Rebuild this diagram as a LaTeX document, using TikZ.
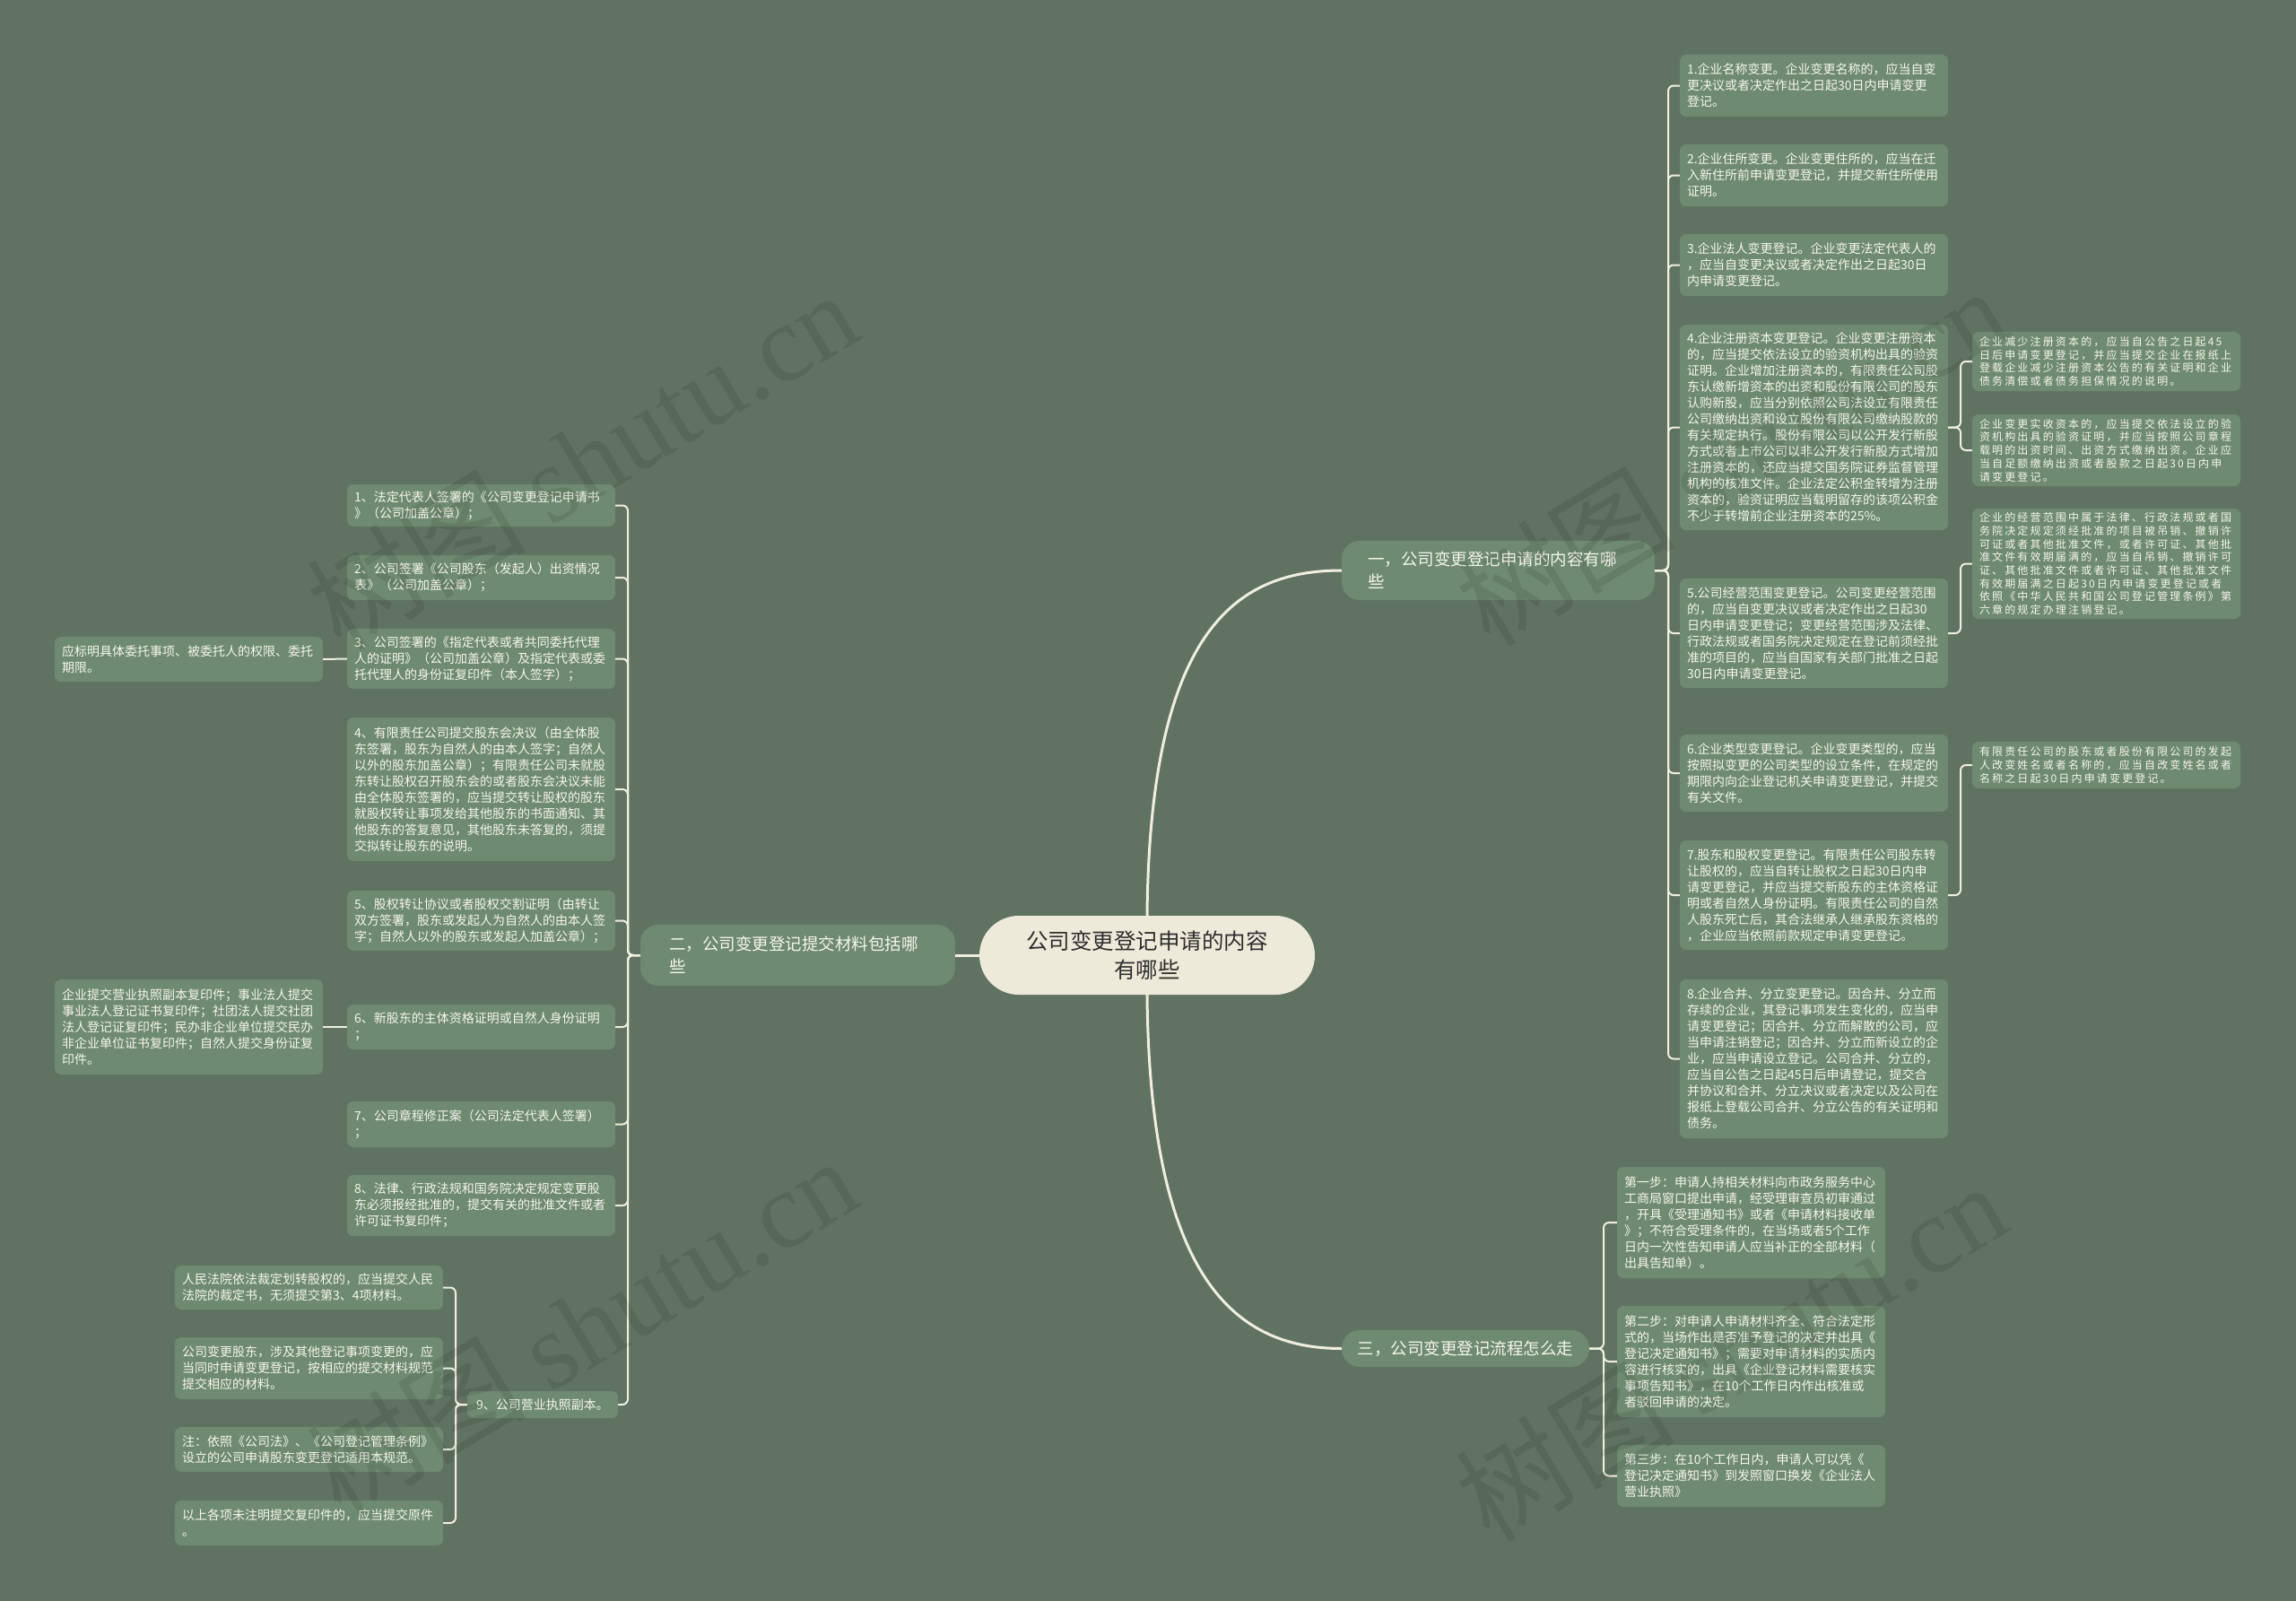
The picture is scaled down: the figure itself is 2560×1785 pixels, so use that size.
\documentclass[tikz,border=0pt]{standalone}
\usepackage{fontspec}
\newfontfamily\cjk{Noto Sans CJK SC}
\newfontfamily\cjkf[LetterSpace=18]{Noto Sans CJK SC}
\newfontfamily\wmserif{Liberation Serif}
\definecolor{bgcol}{HTML}{607362}
\definecolor{boxcol}{HTML}{6E8A70}
\definecolor{txtcol}{HTML}{F6F5EE}
\definecolor{linecol}{HTML}{F1EEDF}
\definecolor{rootcol}{HTML}{EEEADA}
\definecolor{roottxt}{HTML}{2E2E2E}
\tikzset{
  box/.style={fill=boxcol, rounded corners=7pt, text=txtcol, font={\cjk\fontsize{14pt}{18pt}\selectfont}, align=left, text width=283pt, inner xsep=8pt, inner ysep=0pt},
  fbox/.style={box, font={\cjkf\fontsize{12pt}{14.7pt}\selectfont}},
  sbox/.style={fill=boxcol, rounded corners=7pt, text=txtcol, font={\cjk\fontsize{14pt}{18pt}\selectfont}, inner xsep=8pt, inner ysep=0pt},
  branch/.style={fill=boxcol, rounded corners=20pt, text=txtcol, font={\cjk\fontsize{18.5pt}{25pt}\selectfont}, align=left, inner ysep=0pt},
  rootnode/.style={fill=rootcol, rounded corners=44pt, text=roottxt, font={\cjk\fontsize{24.5pt}{32pt}\selectfont}, align=center, minimum width=374pt, minimum height=88pt},
  conn/.style={draw=linecol, line width=2pt, rounded corners=6pt},
  mainconn/.style={draw=linecol, line width=3pt},
  wm/.style={text=black, opacity=0.09, rotate=31, font={\cjk\fontsize{122pt}{122pt}\selectfont}}
}
\begin{document}
\begin{tikzpicture}[x=1pt,y=-1pt]
\fill[bgcol] (0,0) rectangle (2560,1785);
\useasboundingbox (0,0) rectangle (2560,1785);

% center and branches
\node[rootnode] (c) at (1279,1065) {公司变更登记申请的内容\\有哪些};
\node[branch, text width=291pt, inner xsep=29pt, minimum height=66pt] (b1) at (1670.5,636) {一，公司变更登记申请的内容有哪\\些};
\node[branch, text width=287pt, inner xsep=32pt, minimum height=68pt] (b2) at (889.5,1065) {二，公司变更登记提交材料包括哪\\些};
\node[branch, minimum width=276pt, minimum height=41pt] (b3) at (1634,1503.5) {三，公司变更登记流程怎么走};

% right column
\node[box, minimum height=69pt] (r1) at (2022.5,95.5) {1.企业名称变更。企业变更名称的，应当自变\\更决议或者决定作出之日起30日内申请变更\\登记。};
\node[box, minimum height=69pt] (r2) at (2022.5,195.5) {2.企业住所变更。企业变更住所的，应当在迁\\入新住所前申请变更登记，并提交新住所使用\\证明。};
\node[box, minimum height=69pt] (r3) at (2022.5,295.5) {3.企业法人变更登记。企业变更法定代表人的\\，应当自变更决议或者决定作出之日起30日\\内申请变更登记。};
\node[box, minimum height=229pt] (r4) at (2022.5,476.5) {4.企业注册资本变更登记。企业变更注册资本\\的，应当提交依法设立的验资机构出具的验资\\证明。企业增加注册资本的，有限责任公司股\\东认缴新增资本的出资和股份有限公司的股东\\认购新股，应当分别依照公司法设立有限责任\\公司缴纳出资和设立股份有限公司缴纳股款的\\有关规定执行。股份有限公司以公开发行新股\\方式或者上市公司以非公开发行新股方式增加\\注册资本的，还应当提交国务院证券监督管理\\机构的核准文件。企业法定公积金转增为注册\\资本的，验资证明应当载明留存的该项公积金\\不少于转增前企业注册资本的25\%。};
\node[box, minimum height=122pt] (r5) at (2022.5,706) {5.公司经营范围变更登记。公司变更经营范围\\的，应当自变更决议或者决定作出之日起30\\日内申请变更登记；变更经营范围涉及法律、\\行政法规或者国务院决定规定在登记前须经批\\准的项目的，应当自国家有关部门批准之日起\\30日内申请变更登记。};
\node[box, minimum height=86pt] (r6) at (2022.5,862) {6.企业类型变更登记。企业变更类型的，应当\\按照拟变更的公司类型的设立条件，在规定的\\期限内向企业登记机关申请变更登记，并提交\\有关文件。};
\node[box, minimum height=122pt] (r7) at (2022.5,998) {7.股东和股权变更登记。有限责任公司股东转\\让股权的，应当自转让股权之日起30日内申\\请变更登记，并应当提交新股东的主体资格证\\明或者自然人身份证明。有限责任公司的自然\\人股东死亡后，其合法继承人继承股东资格的\\，企业应当依照前款规定申请变更登记。};
\node[box, minimum height=177pt] (r8) at (2022.5,1180.5) {8.企业合并、分立变更登记。因合并、分立而\\存续的企业，其登记事项发生变化的，应当申\\请变更登记；因合并、分立而解散的公司，应\\当申请注销登记；因合并、分立而新设立的企\\业，应当申请设立登记。公司合并、分立的，\\应当自公告之日起45日后申请登记，提交合\\并协议和合并、分立决议或者决定以及公司在\\报纸上登载公司合并、分立公告的有关证明和\\债务。};

% far right
\node[fbox, minimum height=66pt] (f1) at (2348.5,403) {企业减少注册资本的，应当自公告之日起45\\日后申请变更登记，并应当提交企业在报纸上\\登载企业减少注册资本公告的有关证明和企业\\债务清偿或者债务担保情况的说明。};
\node[fbox, minimum height=80pt] (f2) at (2348.5,502) {企业变更实收资本的，应当提交依法设立的验\\资机构出具的验资证明，并应当按照公司章程\\载明的出资时间、出资方式缴纳出资。企业应\\当自足额缴纳出资或者股款之日起30日内申\\请变更登记。};
\node[fbox, minimum height=123pt] (f3) at (2348.5,628.5) {企业的经营范围中属于法律、行政法规或者国\\务院决定规定须经批准的项目被吊销、撤销许\\可证或者其他批准文件，或者许可证、其他批\\准文件有效期届满的，应当自吊销、撤销许可\\证、其他批准文件或者许可证、其他批准文件\\有效期届满之日起30日内申请变更登记或者\\依照《中华人民共和国公司登记管理条例》第\\六章的规定办理注销登记。};
\node[fbox, minimum height=52pt] (f4) at (2348.5,853) {有限责任公司的股东或者股份有限公司的发起\\人改变姓名或者名称的，应当自改变姓名或者\\名称之日起30日内申请变更登记。};

% steps
\node[box, minimum height=124pt] (s1) at (1952.5,1363) {第一步：申请人持相关材料向市政务服务中心\\工商局窗口提出申请，经受理审查员初审通过\\，开具《受理通知书》或者《申请材料接收单\\》；不符合受理条件的，在当场或者5个工作\\日内一次性告知申请人应当补正的全部材料（\\出具告知单）。};
\node[box, minimum height=124pt] (s2) at (1952.5,1518) {第二步：对申请人申请材料齐全、符合法定形\\式的，当场作出是否准予登记的决定并出具《\\登记决定通知书》；需要对申请材料的实质内\\容进行核实的，出具《企业登记材料需要核实\\事项告知书》，在10个工作日内作出核准或\\者驳回申请的决定。};
\node[box, minimum height=69pt] (s3) at (1952.5,1645.5) {第三步：在10个工作日内，申请人可以凭《\\登记决定通知书》到发照窗口换发《企业法人\\营业执照》};

% left column
\node[box, minimum height=47pt] (l1) at (536.5,563.5) {1、法定代表人签署的《公司变更登记申请书\\》（公司加盖公章）；};
\node[box, minimum height=50pt] (l2) at (536.5,644) {2、公司签署《公司股东（发起人）出资情况\\表》（公司加盖公章）；};
\node[box, minimum height=67pt] (l3) at (536.5,734.5) {3、公司签署的《指定代表或者共同委托代理\\人的证明》（公司加盖公章）及指定代表或委\\托代理人的身份证复印件（本人签字）；};
\node[box, minimum height=160pt] (l4) at (536.5,880) {4、有限责任公司提交股东会决议（由全体股\\东签署，股东为自然人的由本人签字；自然人\\以外的股东加盖公章）；有限责任公司未就股\\东转让股权召开股东会的或者股东会决议未能\\由全体股东签署的，应当提交转让股权的股东\\就股权转让事项发给其他股东的书面通知、其\\他股东的答复意见，其他股东未答复的，须提\\交拟转让股东的说明。};
\node[box, minimum height=67pt] (l5) at (536.5,1026.5) {5、股权转让协议或者股权交割证明（由转让\\双方签署，股东或发起人为自然人的由本人签\\字；自然人以外的股东或发起人加盖公章）；};
\node[box, minimum height=50pt] (l6) at (536.5,1145) {6、新股东的主体资格证明或自然人身份证明\\；};
\node[box, minimum height=51pt] (l7) at (536.5,1253.5) {7、公司章程修正案（公司法定代表人签署）\\；};
\node[box, minimum height=68pt] (l8) at (536.5,1344) {8、法律、行政法规和国务院决定规定变更股\\东必须报经批准的，提交有关的批准文件或者\\许可证书复印件；};
\node[sbox, minimum width=168pt, minimum height=30pt] (l9) at (605,1566) {9、公司营业执照副本。};

% far left
\node[box, minimum height=50pt] (fl1) at (210.5,735) {应标明具体委托事项、被委托人的权限、委托\\期限。};
\node[box, minimum height=106pt] (fl2) at (210.5,1145) {企业提交营业执照副本复印件；事业法人提交\\事业法人登记证书复印件；社团法人提交社团\\法人登记证复印件；民办非企业单位提交民办\\非企业单位证书复印件；自然人提交身份证复\\印件。};

% children of 9
\node[box, minimum height=49pt] (n1) at (344.5,1435.5) {人民法院依法裁定划转股权的，应当提交人民\\法院的裁定书，无须提交第3、4项材料。};
\node[box, minimum height=69pt] (n2) at (344.5,1525.5) {公司变更股东，涉及其他登记事项变更的，应\\当同时申请变更登记，按相应的提交材料规范\\提交相应的材料。};
\node[box, minimum height=50pt] (n3) at (344.5,1616) {注：依照《公司法》、《公司登记管理条例》\\设立的公司申请股东变更登记适用本规范。};
\node[box, minimum height=50pt] (n4) at (344.5,1698) {以上各项未注明提交复印件的，应当提交原件\\。};

% main connectors
\draw[mainconn] (c.north) .. controls (1282,700) and (1380,636) .. (b1.west);
\draw[mainconn] (c.south) .. controls (1282,1430) and (1380,1503.5) .. (b3.west);
\draw[mainconn] (c.west) -- (b2.east);

% branch 1 connectors
\foreach \k in {r1,r2,r3,r4,r5,r6,r7,r8}{
  \draw[conn] (b1.east) -- (1860,636) |- (\k.west);
}
\draw[conn] (r4.east) -- (2186,476.5) |- (f1.west);
\draw[conn] (r4.east) -- (2186,476.5) |- (f2.west);
\draw[conn] (r5.east) -- (2186,706) |- (f3.west);
\draw[conn] (r7.east) -- (2186,998) |- (f4.west);

% branch 2 connectors
\foreach \k in {l1,l2,l3,l4,l5,l6,l7,l8,l9}{
  \draw[conn] (b2.west) -- (700,1065) |- (\k.east);
}
\draw[conn] (l3.west) -- (fl1.east);
\draw[conn] (l6.west) -- (fl2.east);
\foreach \k in {n1,n2,n3,n4}{
  \draw[conn] (l9.west) -- (508,1566) |- (\k.east);
}

% branch 3 connectors
\foreach \k in {s1,s2,s3}{
  \draw[conn] (b3.east) -- (1788,1503.5) |- (\k.west);
}

% watermarks
\node[wm] (wm1) at (649,512) {树图 {\wmserif shutu.cn}};
\node[wm] (wm2) at (1930,508) {树图 {\wmserif shutu.cn}};
\node[wm] (wm3) at (649,1478) {树图 {\wmserif shutu.cn}};
\node[wm] (wm4) at (1930,1506) {树图 {\wmserif shutu.cn}};
\end{tikzpicture}
\end{document}
